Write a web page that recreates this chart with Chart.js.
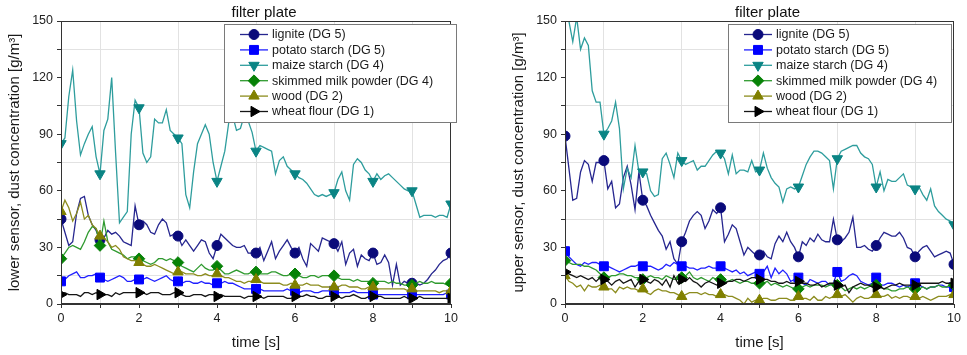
<!DOCTYPE html>
<html>
<head>
<meta charset="utf-8">
<script src="https://cdn.jsdelivr.net/npm/chart.js@4.4.1/dist/chart.umd.min.js"></script>
<style>
  html, body { margin: 0; padding: 0; background: #fff; }
  #wrap { position: relative; width: 967px; height: 355px; overflow: hidden; }
  canvas { position: absolute; top: 0; }
</style>
</head>
<body>
<div id="wrap">
  <canvas id="cLower" width="463" height="355" style="left:0"></canvas>
  <canvas id="cUpper" width="463" height="355" style="left:504px"></canvas>
</div>
<script>
// time axis [s], one reading every 0.1 s
const time = [
  0, 0.1, 0.2, 0.3, 0.4, 0.5, 0.6, 0.7, 0.8, 0.9,
  1, 1.1, 1.2, 1.3, 1.4, 1.5, 1.6, 1.7, 1.8, 1.9,
  2, 2.1, 2.2, 2.3, 2.4, 2.5, 2.6, 2.7, 2.8, 2.9,
  3, 3.1, 3.2, 3.3, 3.4, 3.5, 3.6, 3.7, 3.8, 3.9,
  4, 4.1, 4.2, 4.3, 4.4, 4.5, 4.6, 4.7, 4.8, 4.9,
  5, 5.1, 5.2, 5.3, 5.4, 5.5, 5.6, 5.7, 5.8, 5.9,
  6, 6.1, 6.2, 6.3, 6.4, 6.5, 6.6, 6.7, 6.8, 6.9,
  7, 7.1, 7.2, 7.3, 7.4, 7.5, 7.6, 7.7, 7.8, 7.9,
  8, 8.1, 8.2, 8.3, 8.4, 8.5, 8.6, 8.7, 8.8, 8.9,
  9, 9.1, 9.2, 9.3, 9.4, 9.5, 9.6, 9.7, 9.8, 9.9,
  10
];

const names = ['lignite (DG 5)', 'potato starch (DG 5)', 'maize starch (DG 4)',
  'skimmed milk powder (DG 4)', 'wood (DG 2)', 'wheat flour (DG 1)'];

// ---- lower sensor [g/m³]
const lowerLignite = [
  45, 38, 31, 33, 48, 56, 57, 47, 42, 39,
  34, 35, 39, 37, 38, 36, 33, 32, 31, 52,
  42, 44, 42, 38, 37, 42, 45, 43, 36, 37,
  36, 31, 34, 31, 28, 31, 34, 33, 27, 24,
  31, 37, 35, 33, 31, 30, 30, 31, 27, 27,
  27, 30, 23, 28, 33, 24, 28, 31, 34, 30,
  27, 30, 24, 20, 32, 30, 28, 35, 34, 33,
  32, 28, 33, 21, 27, 29, 20, 26, 24, 23,
  27, 21, 22, 26, 22, 10, 21, 10, 12, 11,
  11, 11, 10, 11, 13, 16, 18, 21, 23, 24,
  27];
const lowerPotato = [
  12, 13, 15, 16, 17, 14, 14, 15, 15, 16,
  14, 13, 12, 13, 14, 15, 14, 12, 12, 13,
  13, 13, 14, 13, 12, 13, 14, 15, 13, 12,
  12, 11, 12, 12, 11, 11, 12, 11, 11, 10,
  11, 11, 12, 11, 11, 10, 9, 8, 8, 8,
  8, 8, 7, 7, 7, 7, 7, 7, 8, 7,
  7, 6, 7, 7, 7, 6, 6, 7, 7, 7,
  7, 6, 6, 6, 6, 7, 6, 6, 6, 6,
  5, 5, 5, 5, 5, 5, 5, 5, 5, 5,
  5, 5, 5, 5, 5, 5, 5, 5, 5, 6,
  5];
const lowerMaize = [
  85, 88, 110, 124, 97, 79, 85, 90, 94, 78,
  69, 92, 98, 120, 80, 43, 46, 49, 90, 108,
  104, 80, 75, 78, 98, 96, 96, 103, 92, 90,
  88, 85, 58, 51, 70, 85, 90, 95, 90, 75,
  65, 73, 81, 96, 100, 92, 93, 100, 97, 91,
  81, 84, 83, 82, 81, 69, 76, 78, 73, 71,
  69, 67, 66, 64, 61, 58, 57, 58, 57, 58,
  59, 66, 70, 60, 55, 74, 77, 75, 71, 69,
  65, 69, 66, 68, 69, 67, 65, 63, 61, 60,
  60, 53, 46, 47, 47, 47, 46, 47, 47, 46,
  53];
const lowerMilk = [
  24, 27, 30, 31, 30, 29, 33, 38, 41, 40,
  31, 44, 33, 29, 28, 27, 26, 24, 25, 25,
  24, 23, 22, 21, 22, 24, 24, 23, 24, 23,
  22, 20, 19, 18, 17, 19, 21, 19, 18, 18,
  20, 18, 16, 16, 17, 18, 17, 16, 16, 17,
  17, 16, 16, 16, 17, 17, 16, 15, 15, 16,
  16, 15, 14, 14, 15, 15, 14, 15, 15, 15,
  15, 14, 13, 13, 13, 12, 13, 12, 12, 12,
  11, 12, 12, 12, 11, 12, 11, 11, 10, 10,
  10, 11, 12, 11, 11, 12, 11, 11, 11, 10,
  11];
const lowerWood = [
  49, 55, 51, 44, 48, 54, 45, 47, 42, 40,
  36, 35, 33, 30, 31, 29, 25, 24, 23, 23,
  22, 21, 20, 20, 21, 20, 19, 18, 17, 16,
  17, 17, 16, 16, 16, 15, 15, 16, 15, 15,
  16, 15, 14, 14, 13, 12, 12, 11, 12, 12,
  13, 12, 11, 11, 11, 11, 11, 10, 10, 11,
  10, 10, 10, 11, 10, 10, 10, 9, 9, 9,
  9, 9, 10, 10, 9, 9, 9, 8, 8, 9,
  9, 8, 8, 8, 8, 8, 8, 8, 8, 7,
  8, 7, 7, 7, 7, 7, 7, 6, 7, 7,
  7];
const lowerWheat = [
  5, 6, 5, 5, 5, 4, 6, 6, 5, 6,
  5, 5, 5, 4, 6, 5, 6, 6, 6, 6,
  6, 6, 5, 6, 6, 6, 5, 5, 5, 6,
  6, 5, 4, 4, 5, 5, 5, 4, 5, 5,
  4, 5, 4, 4, 4, 4, 4, 3, 4, 4,
  4, 4, 3, 4, 4, 4, 4, 4, 3, 3,
  4, 4, 4, 5, 4, 4, 3, 3, 4, 4,
  4, 4, 3, 4, 4, 5, 4, 3, 3, 4,
  4, 4, 4, 3, 3, 3, 3, 3, 4, 3,
  3, 3, 4, 3, 3, 3, 3, 3, 3, 3,
  3];

// ---- upper sensor [g/m³]
const upperLignite = [
  89, 72, 55, 56, 70, 76, 74, 65, 75, 75,
  76, 61, 65, 51, 53, 67, 73, 63, 50, 70,
  55, 52, 47, 43, 39, 36, 29, 33, 24, 21,
  33, 38, 44, 47, 49, 47, 40, 44, 50, 48,
  51, 33, 37, 42, 40, 33, 26, 30, 28, 26,
  26, 28, 25, 24, 32, 36, 33, 38, 33, 30,
  25, 33, 31, 35, 33, 37, 34, 33, 33, 45,
  34, 33, 35, 38, 46, 30, 30, 31, 29, 28,
  31, 35, 38, 37, 36, 36, 38, 35, 30, 29,
  25, 28, 30, 31, 28, 25, 26, 27, 28, 27,
  21];
const upperPotato = [
  28, 25, 23, 21, 20, 22, 21, 22, 22, 21,
  20, 20, 19, 18, 17, 18, 19, 20, 20, 21,
  20, 20, 20, 19, 18, 19, 21, 20, 22, 21,
  20, 20, 19, 19, 18, 19, 19, 20, 19, 19,
  20, 19, 18, 17, 18, 16, 17, 15, 16, 17,
  16, 17, 20, 14, 19, 16, 18, 16, 12, 13,
  14, 11, 10, 13, 12, 11, 12, 12, 10, 11,
  17, 12, 13, 15, 16, 15, 12, 11, 10, 11,
  14, 10, 10, 11, 11, 10, 9, 10, 9, 10,
  11, 10, 9, 8, 9, 9, 10, 10, 9, 9,
  9];
const upperMaize = [
  160, 150, 139, 152, 135, 141, 137, 113, 107, 107,
  90, 93, 97, 107, 93, 61, 72, 67, 84, 70,
  70, 69, 60, 57, 58, 77, 80, 74, 67, 80,
  76, 74, 75, 76, 71, 73, 73, 76, 79, 81,
  80, 77, 69, 79, 69, 71, 71, 70, 76, 70,
  71, 80, 72, 67, 64, 62, 54, 61, 62, 61,
  62, 68, 74, 78, 81, 81, 80, 78, 76, 61,
  77, 81, 82, 83, 84, 84, 80, 78, 77, 74,
  62, 70, 60, 66, 65, 65, 67, 69, 63, 62,
  61, 62, 58, 55, 61, 52, 49, 47, 45, 44,
  42];
const upperMilk = [
  23, 22, 21, 21, 21, 20, 20, 19, 18, 16,
  14, 14, 15, 15, 16, 16, 15, 15, 14, 14,
  13, 14, 15, 14, 14, 13, 15, 14, 13, 13,
  14, 15, 17, 14, 13, 14, 13, 12, 14, 13,
  13, 12, 12, 13, 12, 11, 12, 12, 11, 11,
  11, 11, 12, 10, 11, 10, 9, 10, 9, 8,
  8, 9, 10, 9, 10, 10, 10, 9, 10, 11,
  10, 9, 7, 8, 9, 8, 9, 8, 9, 10,
  10, 9, 8, 8, 7, 7, 8, 8, 9, 8,
  8, 8, 9, 8, 9, 9, 10, 9, 9, 10,
  10];
const upperWood = [
  15, 12, 11, 9, 10, 7, 10, 9, 9, 10,
  9, 8, 8, 6, 9, 8, 9, 8, 8, 7,
  8, 6, 5, 7, 8, 7, 7, 6, 6, 5,
  4, 5, 6, 6, 6, 5, 6, 5, 5, 4,
  5, 5, 4, 4, 3, 2, 0, 3, 1, 2,
  2, 3, 3, 2, 2, 3, 3, 3, 2, 2,
  4, 3, 3, 2, 4, 2, 2, 4, 3, 4,
  5, 4, 5, 3, 1, 3, 4, 3, 3, 4,
  5, 4, 4, 5, 3, 4, 3, 4, 4, 3,
  4, 3, 4, 3, 2, 3, 4, 4, 4, 5,
  5];
const upperWheat = [
  17, 16, 15, 14, 15, 14, 13, 14, 12, 14,
  13, 12, 10, 12, 13, 11, 12, 13, 9, 12,
  13, 12, 11, 13, 12, 10, 13, 9, 15, 11,
  13, 12, 14, 12, 11, 9, 11, 12, 11, 10,
  11, 11, 12, 12, 13, 13, 12, 13, 14, 14,
  13, 13, 13, 12, 12, 11, 11, 12, 11, 11,
  12, 11, 11, 10, 10, 11, 9, 10, 11, 11,
  10, 9, 10, 6, 9, 10, 11, 10, 10, 9,
  9, 9, 8, 9, 10, 10, 11, 10, 10, 10,
  10, 11, 11, 11, 11, 11, 11, 12, 11, 11,
  11];

const FONT = "'Liberation Sans', Arial, Helvetica, sans-serif";

// line colour, marker colour, marker shape
const looks = [
  { line: '#26268f', fill: '#0a0a7a', shape: 'circle', rot: 0, r: 5 },
  { line: '#2020ff', fill: '#0000ff', shape: 'rect', rot: 0, r: 6.3 },
  { line: '#2e9d9d', fill: '#0a8484', shape: 'triangle', rot: 180, r: 6 },
  { line: '#2f9a2f', fill: '#078207', shape: 'rectRot', rot: 0, r: 5.8 },
  { line: '#8c8c1e', fill: '#808000', shape: 'triangle', rot: 0, r: 6 },
  { line: '#151515', fill: '#000000', shape: 'triangle', rot: 90, r: 6 }
];

function buildSets(series) {
  return series.map((vals, i) => ({
    label: names[i],
    data: time.map((t, k) => ({ x: t, y: vals[k] })),
    borderColor: looks[i].line,
    borderWidth: 1.3,
    tension: 0,
    fill: false,
    pointStyle: looks[i].shape,
    pointRotation: looks[i].rot,
    pointRadius: c => Number.isInteger(time[c.dataIndex]) ? looks[i].r : 0,
    pointHoverRadius: 0,
    pointBackgroundColor: looks[i].fill,
    pointBorderColor: looks[i].fill,
    pointBorderWidth: 1,
    order: 10 - i
  }));
}

// frame, title and the boxed legend (drawn over the lines)
const frameLegend = {
  id: 'frameLegend',
  afterDatasetsDraw(chart, args, opts) {
    const { ctx, chartArea: a } = chart;
    ctx.save();
    ctx.strokeStyle = '#333';
    ctx.lineWidth = 1;
    ctx.strokeRect(Math.round(a.left) + 0.5, Math.round(a.top) + 0.5,
      Math.round(a.right - a.left) - 1, Math.round(a.bottom - a.top) - 1);

    ctx.fillStyle = '#111';
    ctx.font = '15px ' + FONT;
    ctx.textAlign = 'center';
    ctx.textBaseline = 'middle';
    ctx.fillText('filter plate', (a.left + a.right) / 2 + 8, 13);

    const b = opts.box;
    ctx.fillStyle = '#fff';
    ctx.fillRect(b.x, b.y, b.w, b.h);
    ctx.strokeStyle = '#7a7a7a';
    ctx.strokeRect(b.x + 0.5, b.y + 0.5, b.w, b.h);
    ctx.font = '12.5px ' + FONT;
    ctx.textAlign = 'left';
    chart.data.datasets.forEach((ds, i) => {
      const y = b.y + 10.5 + i * 15.4;
      ctx.strokeStyle = looks[i].line;
      ctx.lineWidth = 1.3;
      ctx.beginPath();
      ctx.moveTo(b.x + 16, y);
      ctx.lineTo(b.x + 44, y);
      ctx.stroke();
      ctx.fillStyle = looks[i].fill;
      ctx.strokeStyle = looks[i].fill;
      ctx.lineWidth = 1;
      Chart.helpers.drawPoint(ctx, { pointStyle: looks[i].shape, rotation: looks[i].rot,
        radius: looks[i].r, borderWidth: 1 }, b.x + 30, y);
      ctx.fillStyle = '#1a1a1a';
      ctx.fillText(ds.label, b.x + 48, y + 0.5);
    });
    ctx.restore();
  }
};

function makeOptions(yTitle, padRight, box) {
  return {
    responsive: false,
    animation: false,
    events: [],
    layout: { padding: { top: 21, right: padRight, bottom: 0, left: 0 } },
    plugins: {
      legend: { display: false },
      tooltip: { enabled: false },
      frameLegend: { box: box }
    },
    scales: {
      x: {
        type: 'linear', min: 0, max: 10,
        ticks: {
          stepSize: 1, autoSkip: false, maxRotation: 0, padding: 3,
          color: '#222', font: { family: FONT, size: 12.5 },
          callback: v => (v % 2 === 0 ? v : '')
        },
        grid: {
          color: c => (c.tick && c.tick.value % 2 === 1 ? '#e2e2e2' : 'rgba(0,0,0,0)'),
          tickColor: '#333', tickLength: 4, lineWidth: 1
        },
        border: { color: '#333', width: 1 },
        title: { display: true, text: 'time [s]', color: '#1a1a1a',
          font: { family: FONT, size: 15 }, padding: { top: 0, bottom: 3 } },
        afterFit: s => { s.height = 51; }
      },
      y: {
        min: 0, max: 150,
        ticks: {
          stepSize: 15, autoSkip: false, padding: 4,
          color: '#222', font: { family: FONT, size: 12.5 },
          callback: v => (v % 30 === 0 ? v : '')
        },
        grid: {
          color: c => (c.tick && c.tick.value % 30 === 15 ? '#e2e2e2' : 'rgba(0,0,0,0)'),
          tickColor: '#333', tickLength: 4, lineWidth: 1
        },
        border: { color: '#333', width: 1 },
        title: { display: true, text: yTitle, color: '#1a1a1a',
          font: { family: FONT, size: 15 }, padding: { top: 6, bottom: 0 } },
        afterFit: s => { s.width = 61; }
      }
    }
  };
}

new Chart('cLower', {
  type: 'line',
  data: { datasets: buildSets([lowerLignite, lowerPotato, lowerMaize, lowerMilk, lowerWood, lowerWheat]) },
  options: makeOptions('lower sensor, dust concentration [g/m³]', 12, { x: 224, y: 24, w: 232, h: 98 }),
  plugins: [frameLegend]
});

new Chart('cUpper', {
  type: 'line',
  data: { datasets: buildSets([upperLignite, upperPotato, upperMaize, upperMilk, upperWood, upperWheat]) },
  options: makeOptions('upper sensor, dust concentration [g/m³]', 13, { x: 224, y: 24, w: 223, h: 98 }),
  plugins: [frameLegend]
});
</script>
</body>
</html>
